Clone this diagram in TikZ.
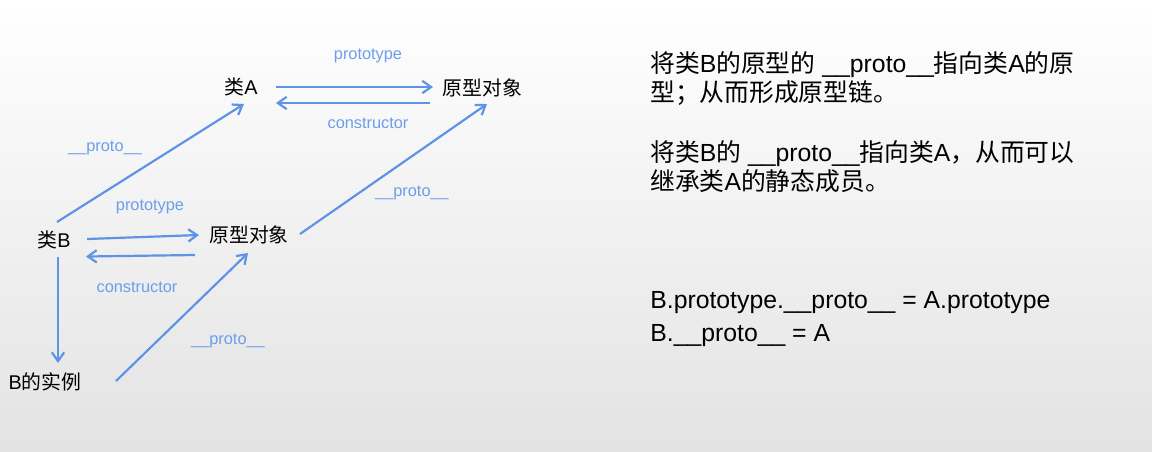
\documentclass[tikz,border=0pt]{standalone}
\usepackage{fontspec}
\setmainfont{Liberation Sans}
\newfontfamily\cjk{Noto Sans CJK SC}
\newcommand{\zh}[1]{{\cjk #1}}
\usetikzlibrary{arrows.meta,positioning}
\definecolor{linkblue}{RGB}{95,147,230}
\definecolor{labelblue}{RGB}{108,158,235}
\tikzset{
  link/.style={draw=linkblue, line width=1.25pt, -{Straight Barb[length=5pt,width=7pt]}},
  lbl/.style={text=labelblue, font=\fontsize{9.3}{11}\selectfont, inner sep=0pt},
  term/.style={font=\fontsize{11.3}{13}\selectfont, inner sep=0pt, anchor=base},
  note/.style={font=\fontsize{14.1}{17}\selectfont, inner sep=0pt, anchor=base west},
}

\begin{document}
\begin{tikzpicture}[x=0.02cm,y=-0.02cm]
    \shade[top color=white, bottom color=black!11] (0,0) rectangle (1152,451);
    \useasboundingbox (0,0) rectangle (1152,451);

    % classes and their prototypes
    \node[term] (clsA) at (241,94) {\zh{类}A};
    \node[term] (protoA) at (482.5,95) {\zh{原型对象}};
    \node[term] (clsB) at (54,247) {\zh{类}B};
    \node[term] (protoB) at (249,242) {\zh{原型对象}};
    \node[term] (inst) at (45,389) {B\zh{的实例}};

    \draw[link] ([shift={(35,-7)}]clsA.base) -- ([shift={(-49.5,-8)}]protoA.base);
    \draw[link] ([shift={(-52.5,8)}]protoA.base) -- ([shift={(35,9)}]clsA.base);
    \draw[link] ([shift={(33,-8)}]clsB.base) -- ([shift={(-50,-7)}]protoB.base);
    \draw[link] ([shift={(-54,13)}]protoB.base) -- ([shift={(32,9.5)}]clsB.base);
    \draw[link] ([shift={(4,10)}]clsB.base) -- ([shift={(13,-26)}]inst.base);
    \draw[link] ([shift={(3,-25)}]clsB.base) -- ([shift={(3,10)}]clsA.base);
    \draw[link] ([shift={(51,-8)}]protoB.base) -- ([shift={(4.5,9)}]protoA.base);
    \draw[link] ([shift={(71,-8)}]inst.base) -- ([shift={(-1,11)}]protoB.base);

    \node[lbl] (lblProtoA) at (368,56) {prototype};
    \node[lbl] (lblCtorA) at (368,123) {constructor};
    \node[lbl] (lblProtoB) at (150,207) {prototype};
    \node[lbl] (lblCtorB) at (137,287) {constructor};
    \node[lbl] (lblClsB) at (105,148) {\_\_proto\_\_};
    \node[lbl] (lblPrB) at (412,193) {\_\_proto\_\_};
    \node[lbl] (lblInst) at (228,341) {\_\_proto\_\_};

    % notes on the right
    \node[note] (noteA1) at (650,72.5) {\zh{将类}B\zh{的原型的} \_\_proto\_\_\zh{指向类}A\zh{的原}};
    \node[note] (noteA2) at (650,101) {\zh{型；从而形成原型链。}};
    \node[note] (noteB1) at (650,161.5) {\zh{将类}B\zh{的} \_\_proto\_\_\zh{指向类}A\zh{，从而可以}};
    \node[note] (noteB2) at (650,190) {\zh{继承类}A\zh{的静态成员。}};
    \node[note] (codeA) at (650,308.5) {B.prototype.\_\_proto\_\_ = A.prototype};
    \node[note] (codeB) at (650,341.5) {B.\_\_proto\_\_ = A};
\end{tikzpicture}
\end{document}
